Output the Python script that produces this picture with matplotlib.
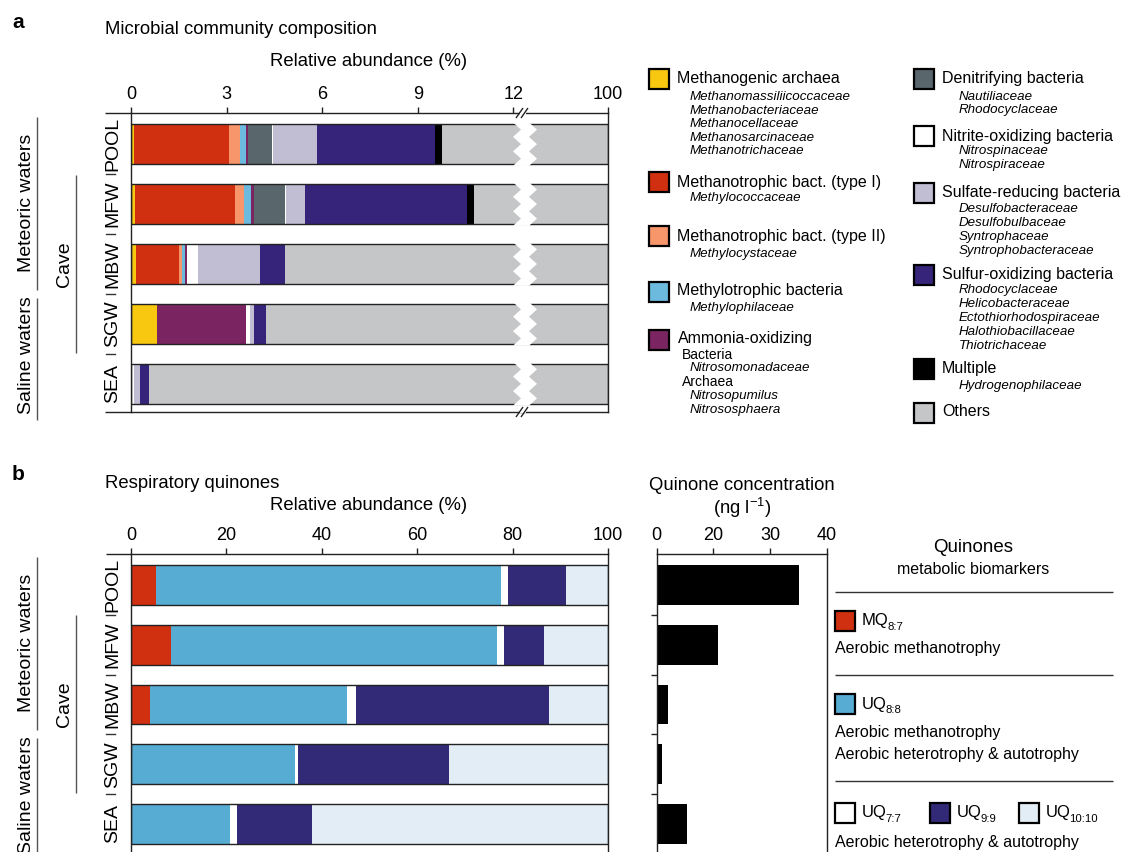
import numpy as np
import matplotlib
matplotlib.use("Agg")
import matplotlib.pyplot as plt
from matplotlib.patches import Rectangle, Polygon
from matplotlib.lines import Line2D
import matplotlib.transforms as mtransforms

plt.rcParams["font.family"] = ["Liberation Sans", "DejaVu Sans"]
plt.rcParams["mathtext.default"] = "regular"

# ---------------------------------------------------------------- data
samples = ["POOL", "MFW", "MBW", "SGW", "SEA"]

taxa = ["Methanogenic archaea", "Methanotrophic bact. (type I)",
        "Methanotrophic bact. (type II)", "Methylotrophic bacteria",
        "Ammonia-oxidizing", "Denitrifying bacteria",
        "Nitrite-oxidizing bacteria", "Sulfate-reducing bacteria",
        "Sulfur-oxidizing bacteria", "Multiple", "Others"]
taxa_colors = ["#F8C70F", "#D13010", "#F7966B", "#6CBBDF", "#7B2462",
               "#59666C", "#FFFFFF", "#C1BDD3", "#36247A", "#000000",
               "#C5C6C8"]

# relative abundance (%) of each functional group, per sample
pool_comp = [0.08, 3.01, 0.32, 0.19, 0.08, 0.74, 0.04, 1.38, 3.69, 0.24, 90.23]
mfw_comp = [0.13, 3.12, 0.29, 0.22, 0.09, 0.97, 0.04, 0.60, 5.10, 0.20, 89.24]
mbw_comp = [0.16, 1.36, 0.07, 0.10, 0.06, 0.00, 0.36, 1.93, 0.79, 0.00, 95.17]
sgw_comp = [0.82, 0.00, 0.00, 0.00, 2.78, 0.00, 0.13, 0.12, 0.40, 0.00, 95.75]
sea_comp = [0.00, 0.00, 0.00, 0.00, 0.03, 0.00, 0.05, 0.20, 0.29, 0.00, 99.43]
composition = [pool_comp, mfw_comp, mbw_comp, sgw_comp, sea_comp]

composition_ticks = [0, 3, 6, 9, 12, 100]

quinone_names = [("MQ", "8:7"), ("UQ", "8:8"), ("UQ", "7:7"),
                 ("UQ", "9:9"), ("UQ", "10:10")]
quinone_colors = ["#D13010", "#57ACD4", "#FFFFFF", "#322A77", "#E3EDF6"]
pool_q = [5.2, 72.4, 1.5, 12.0, 8.9]
mfw_q = [8.4, 68.4, 1.3, 8.4, 13.5]
mbw_q = [4.0, 41.3, 1.9, 40.4, 12.4]
sgw_q = [0.0, 34.4, 0.6, 31.7, 33.3]
sea_q = [0.0, 20.8, 1.4, 15.8, 62.0]
quinone_profile = [pool_q, mfw_q, mbw_q, sgw_q, sea_q]

concentration = [33.5, 14.4, 2.6, 1.2, 7.1]
conc_tick_labels = ["0", "20", "30", "40"]

# ---------------------------------------------------------------- figure
W, H = 1121, 852
fig = plt.figure(figsize=(W / 100, H / 100), dpi=100)
fig.patch.set_facecolor("white")
renderer = fig.canvas.get_renderer()

LEG_FS = 11.5     # legend headings
SUB_FS = 9.6      # italic family names
HEAD_FS = 13.3    # panel titles / axis titles
SIDE_FS = 14      # sample names and water-type labels
TICK_FS = 13


def fx(px):
    return px / W


def fy(py):
    return 1 - py / H


def axes_px(left, top, right, bottom):
    return fig.add_axes([fx(left), fy(bottom), (right - left) / W,
                         (bottom - top) / H])


def fig_line(x0, y0, x1, y1, color="#222222", lw=1.0, z=5):
    fig.add_artist(Line2D([fx(x0), fx(x1)], [fy(y0), fy(y1)],
                          transform=fig.transFigure, color=color, lw=lw,
                          zorder=z, solid_capstyle="butt"))


def fig_text(x, y, s, **kw):
    kw.setdefault("va", "center")
    kw.setdefault("ha", "left")
    return fig.text(fx(x), fy(y), s, **kw)


def swatch(x, y, color, size=20):
    fig.add_artist(Rectangle((fx(x), fy(y + size)), size / W, size / H,
                             transform=fig.transFigure, facecolor=color,
                             edgecolor="black", lw=1.6, zorder=5))


def sub(x, y, s):
    fig_text(x, y, s, fontsize=SUB_FS, style="italic")


def subscripted(x, y, main, low, fs):
    t = fig_text(x, y, main, fontsize=fs)
    w = t.get_window_extent(renderer=renderer).width
    fig_text(x + w - 1.5, y + 6, low, fontsize=fs * 0.68)


SPINE = "#222222"
BAR_H = 0.667
YLIM = (4.47, -0.52)


def style_spines(ax, top=True, left=True, right=True, bottom=True):
    for side, show in zip(["top", "left", "right", "bottom"],
                          [top, left, right, bottom]):
        ax.spines[side].set_visible(show)
        ax.spines[side].set_color(SPINE)
        ax.spines[side].set_linewidth(1.0)


def row_labels(ax, label_x_px, ax_left_px, ax_width_px):
    trans = mtransforms.blended_transform_factory(ax.transAxes, ax.transData)
    xa = (label_x_px - ax_left_px) / ax_width_px
    for i, s in enumerate(samples):
        ax.text(xa, i, s, rotation=90, ha="center", va="center",
                fontsize=SIDE_FS, transform=trans, clip_on=False)
    x0 = (106 - ax_left_px) / ax_width_px
    x1 = (115 - ax_left_px) / ax_width_px
    for i in range(len(samples) - 1):
        ax.plot([x0, x1], [i + 0.5, i + 0.5], color="#333333", lw=1.0,
                transform=trans, clip_on=False)


def group_brackets(dy):
    # water-type brackets at the left of each panel
    fig_line(37, 117 + dy, 37, 290 + dy, color="#555555")
    fig_text(27, 203 + dy, "Meteoric waters", rotation=90, ha="center",
             fontsize=SIDE_FS)
    fig_line(76, 175 + dy, 76, 353 + dy, color="#555555")
    fig_text(64, 264 + dy, "Cave", rotation=90, ha="center",
             fontsize=SIDE_FS)
    fig_line(37, 298 + dy, 37, 420 + dy, color="#555555")
    fig_text(27, 355 + dy, "Saline waters", rotation=90, ha="center",
             fontsize=SIDE_FS)


# ================================================================ panel a
A_L, A_T, A_R, A_B = 131, 113, 608, 412
axA = axes_px(A_L, A_T, A_R, A_B)

BREAK = 12.3
PX_PER_UNIT = (513.3 - A_L) / 12.0
TOTAL_UNITS = (A_R - A_L) / PX_PER_UNIT
K = (TOTAL_UNITS - BREAK) / (100.0 - BREAK)


def fwd(x):
    x = np.asarray(x, dtype=float)
    return np.where(x <= BREAK, x, BREAK + (x - BREAK) * K)


def inv(y):
    y = np.asarray(y, dtype=float)
    return np.where(y <= BREAK, y, BREAK + (y - BREAK) / K)


axA.set_xscale("function", functions=(fwd, inv))
axA.set_xlim(0, 100)
axA.set_ylim(*YLIM)

for i, comp in enumerate(composition):
    left = 0.0
    for w, c in zip(comp, taxa_colors):
        if w > 0:
            axA.barh(i, w, left=left, height=BAR_H, color=c, lw=0)
        left += w
    axA.add_patch(Rectangle((0, i - BAR_H / 2), 100, BAR_H, fill=False,
                            edgecolor=SPINE, lw=1.0, zorder=3))

# zig-zag cut across the bars at the axis break
tr_break = mtransforms.blended_transform_factory(axA.transAxes, axA.transData)
zig = np.array([513, 521, 513, 521, 513, 521, 513], dtype=float)
for i in range(len(samples)):
    ys = np.linspace(i - BAR_H / 2 - 0.03, i + BAR_H / 2 + 0.03, 7)
    xl = (zig - A_L) / (A_R - A_L)
    xr = (zig + 16 - A_L) / (A_R - A_L)
    pts = np.column_stack([np.concatenate([xl, xr[::-1]]),
                           np.concatenate([ys, ys[::-1]])])
    axA.add_patch(Polygon(pts, closed=True, facecolor="white",
                          edgecolor="none", transform=tr_break, zorder=4))

axA.xaxis.tick_top()
axA.set_xticks(composition_ticks)
axA.set_xticklabels([str(t) for t in composition_ticks])
axA.tick_params(axis="x", direction="out", length=4, width=1.0,
                colors=SPINE, labelcolor="black", labelsize=TICK_FS, pad=3)
axA.set_yticks([])
style_spines(axA)
row_labels(axA, 113, A_L, A_R - A_L)

# axis break marks
for yb in (A_T, A_B):
    fig.add_artist(Rectangle((fx(519.5), fy(yb + 1.5)), 6 / W, 3 / H,
                             transform=fig.transFigure, facecolor="white",
                             edgecolor="none", zorder=6))
    fig_line(516, yb + 5, 523, yb - 5, color=SPINE, lw=1.0, z=7)
    fig_line(521, yb + 5, 528, yb - 5, color=SPINE, lw=1.0, z=7)

# header lines extend over the sample-name column
fig_line(105, A_T, A_L, A_T, color=SPINE)
fig_line(105, A_B, A_L, A_B, color=SPINE)

fig_text(12, 22, "a", fontsize=15, fontweight="bold")
fig_text(105, 30, "Microbial community composition", fontsize=HEAD_FS)
fig_text(369, 62, "Relative abundance (%)", ha="center", fontsize=HEAD_FS)
group_brackets(0)

# legend, first column
swatch(649, 69, taxa_colors[0])
fig_text(677, 79, taxa[0], fontsize=LEG_FS)
for k, s in enumerate(["Methanomassiliicoccaceae", "Methanobacteriaceae",
                       "Methanocellaceae", "Methanosarcinaceae",
                       "Methanotrichaceae"]):
    sub(690, 97 + 13.6 * k, s)

swatch(649, 172, taxa_colors[1])
fig_text(677, 182, taxa[1], fontsize=LEG_FS)
sub(690, 198, "Methylococcaceae")

swatch(649, 226, taxa_colors[2])
fig_text(677, 236, taxa[2], fontsize=LEG_FS)
sub(690, 254, "Methylocystaceae")

swatch(649, 282, taxa_colors[3])
fig_text(677, 291, taxa[3], fontsize=LEG_FS)
sub(690, 308, "Methylophilaceae")

swatch(649, 330, taxa_colors[4])
fig_text(678, 339, taxa[4], fontsize=LEG_FS)
fig_text(682, 355, "Bacteria", fontsize=SUB_FS + 0.4)
sub(690, 368, "Nitrosomonadaceae")
fig_text(682, 382, "Archaea", fontsize=SUB_FS + 0.4)
sub(690, 396, "Nitrosopumilus")
sub(690, 410, "Nitrososphaera")

# legend, second column
swatch(914, 69, taxa_colors[5])
fig_text(942, 79, taxa[5], fontsize=LEG_FS)
sub(959, 97, "Nautiliaceae")
sub(959, 110, "Rhodocyclaceae")

swatch(914, 126, taxa_colors[6])
fig_text(942, 136, taxa[6], fontsize=LEG_FS)
sub(959, 151, "Nitrospinaceae")
sub(959, 165, "Nitrospiraceae")

swatch(914, 183, taxa_colors[7])
fig_text(942, 193, taxa[7], fontsize=LEG_FS)
for k, s in enumerate(["Desulfobacteraceae", "Desulfobulbaceae",
                       "Syntrophaceae", "Syntrophobacteraceae"]):
    sub(959, 209 + 13.9 * k, s)

swatch(914, 265, taxa_colors[8])
fig_text(942, 274, taxa[8], fontsize=LEG_FS)
for k, s in enumerate(["Rhodocyclaceae", "Helicobacteraceae",
                       "Ectothiorhodospiraceae", "Halothiobacillaceae",
                       "Thiotrichaceae"]):
    sub(959, 290 + 13.9 * k, s)

swatch(914, 359, taxa_colors[9])
fig_text(942, 369, taxa[9], fontsize=LEG_FS)
sub(959, 386, "Hydrogenophilaceae")

swatch(914, 403, taxa_colors[10])
fig_text(942, 412, taxa[10], fontsize=LEG_FS)

# ================================================================ panel b
B_L, B_T, B_R, B_B = 131, 554, 608, 852
axB = axes_px(B_L, B_T, B_R, B_B)
axB.set_xlim(0, 100)
axB.set_ylim(*YLIM)
for i, prof in enumerate(quinone_profile):
    left = 0.0
    for w, c in zip(prof, quinone_colors):
        if w > 0:
            axB.barh(i, w, left=left, height=BAR_H, color=c, lw=0)
        left += w
    axB.add_patch(Rectangle((0, i - BAR_H / 2), 100, BAR_H, fill=False,
                            edgecolor=SPINE, lw=1.0, zorder=3))
axB.xaxis.tick_top()
axB.set_xticks(np.arange(0, 101, 20))
axB.tick_params(axis="x", direction="out", length=4, width=1.0,
                colors=SPINE, labelcolor="black", labelsize=TICK_FS, pad=3)
axB.set_yticks([])
style_spines(axB, bottom=False)
row_labels(axB, 113, B_L, B_R - B_L)
fig_line(106, B_T, B_L, B_T, color=SPINE)

fig_text(12, 474, "b", fontsize=15, fontweight="bold")
fig_text(105, 483, "Respiratory quinones", fontsize=HEAD_FS)
fig_text(369, 505, "Relative abundance (%)", ha="center", fontsize=HEAD_FS)
group_brackets(440)

# quinone concentration
C_L, C_R = 656.7, 826.7
axC = axes_px(C_L, B_T, C_R, B_B)
axC.set_xlim(0, 40)
axC.set_ylim(*YLIM)
axC.barh(np.arange(len(samples)), concentration, height=BAR_H,
         color="black", lw=0)
axC.xaxis.tick_top()
axC.set_xticks(np.linspace(0, 40, len(conc_tick_labels)))
axC.set_xticklabels(conc_tick_labels)
axC.tick_params(axis="x", direction="out", length=4, width=1.0,
                colors=SPINE, labelcolor="black", labelsize=TICK_FS, pad=3)
axC.set_yticks(np.arange(len(samples) - 1) + 0.5)
axC.set_yticklabels([])
axC.tick_params(axis="y", direction="out", length=4, width=1.0, colors=SPINE)
style_spines(axC, bottom=False)
fig_text(742, 486, "Quinone concentration", ha="center", fontsize=HEAD_FS)
fig_text(742, 508, "(ng l$^{-1}$)", ha="center", fontsize=HEAD_FS)

# quinone legend
fig_text(973, 548, "Quinones", ha="center", fontsize=13.5)
fig_text(973, 570, "metabolic biomarkers", ha="center", fontsize=11.5)
for yl in (592, 675, 781):
    fig_line(835, yl, 1113, yl, color="#333333")

QFS = LEG_FS + 0.5
swatch(835, 611, quinone_colors[0])
subscripted(862, 621, *quinone_names[0], QFS)
fig_text(835, 648, "Aerobic methanotrophy", fontsize=LEG_FS)

swatch(835, 694, quinone_colors[1])
subscripted(862, 704, *quinone_names[1], QFS)
fig_text(835, 732, "Aerobic methanotrophy", fontsize=LEG_FS)
fig_text(835, 755, "Aerobic heterotrophy & autotrophy", fontsize=LEG_FS)

swatch(835, 803, quinone_colors[2])
subscripted(862, 813, *quinone_names[2], QFS)
swatch(930, 803, quinone_colors[3])
subscripted(957, 813, *quinone_names[3], QFS)
swatch(1019, 803, quinone_colors[4])
subscripted(1046, 813, *quinone_names[4], QFS)
fig_text(835, 843, "Aerobic heterotrophy & autotrophy", fontsize=LEG_FS)

fig.savefig("out.png", dpi=100, facecolor="white")
